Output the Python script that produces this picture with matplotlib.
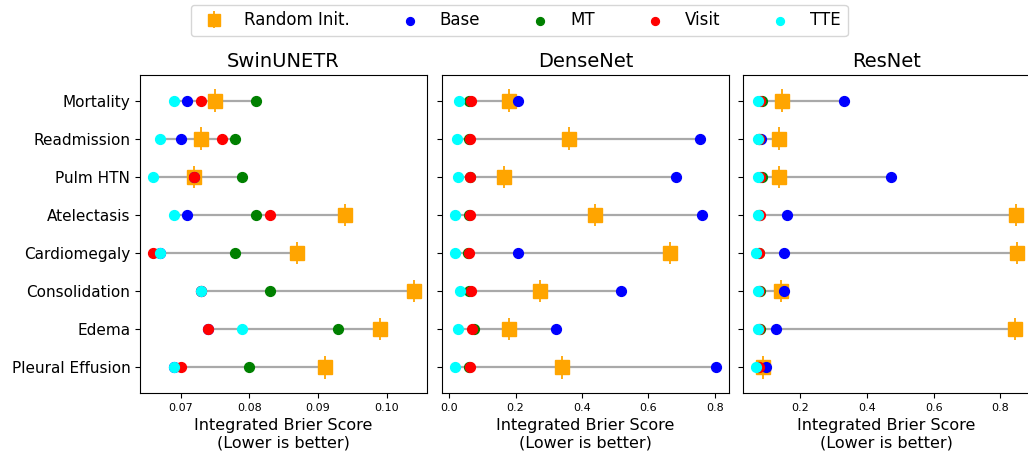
import numpy as np
import matplotlib.pyplot as plt


tasks = ['Mortality', 'Readmission', 'Pulm HTN', 'Atelectasis',
         'Cardiomegaly', 'Consolidation', 'Edema', 'Pleural Effusion']
methods = ['Random Init.', 'Base', 'MT', 'Visit', 'TTE']
colors = ['orange', 'blue', 'green', 'red', 'cyan']

# integrated Brier scores, one list per method, rows follow `tasks`
swin_ri = [0.075, 0.073, 0.072, 0.094, 0.087, 0.104, 0.099, 0.091]
swin_base = [0.071, 0.070, 0.072, 0.071, 0.067, 0.073, 0.074, 0.069]
swin_mt = [0.081, 0.078, 0.079, 0.081, 0.078, 0.083, 0.093, 0.080]
swin_visit = [0.073, 0.076, 0.072, 0.083, 0.066, 0.073, 0.074, 0.070]
swin_tte = [0.069, 0.067, 0.066, 0.069, 0.067, 0.073, 0.079, 0.069]

dense_ri = [0.181, 0.360, 0.166, 0.439, 0.666, 0.275, 0.181, 0.340]
dense_base = [0.207, 0.755, 0.684, 0.761, 0.207, 0.518, 0.322, 0.804]
dense_mt = [0.060, 0.060, 0.062, 0.061, 0.058, 0.061, 0.074, 0.059]
dense_visit = [0.066, 0.062, 0.063, 0.063, 0.060, 0.066, 0.069, 0.064]
dense_tte = [0.031, 0.025, 0.026, 0.018, 0.018, 0.033, 0.027, 0.018]

res_ri = [0.145, 0.136, 0.136, 0.847, 0.850, 0.143, 0.843, 0.090]
res_base = [0.332, 0.083, 0.472, 0.161, 0.153, 0.153, 0.128, 0.098]
res_mt = [0.085, 0.078, 0.085, 0.077, 0.078, 0.079, 0.080, 0.075]
res_visit = [0.080, 0.078, 0.081, 0.079, 0.077, 0.078, 0.078, 0.077]
res_tte = [0.073, 0.073, 0.073, 0.073, 0.068, 0.075, 0.075, 0.068]

models = {
    'SwinUNETR': [swin_ri, swin_base, swin_mt, swin_visit, swin_tte],
    'DenseNet': [dense_ri, dense_base, dense_mt, dense_visit, dense_tte],
    'ResNet': [res_ri, res_base, res_mt, res_visit, res_tte],
}

fig = plt.figure(figsize=(10.28, 4.53), dpi=100)
lefts = [0.1362, 0.4300, 0.7228]
y = np.arange(len(tasks))

for i, (name, scores) in enumerate(models.items()):
    ax = fig.add_axes([lefts[i], 0.1325, 0.2792, 0.702])
    arr = np.array(scores)
    # grey range line behind the markers
    ax.hlines(y, arr.min(axis=0), arr.max(axis=0), color='darkgray', lw=1.6, zorder=1)
    ax.errorbar(arr[0], y, yerr=0.3, fmt='s', color=colors[0], markersize=10,
                elinewidth=1.3, label=methods[0], zorder=2)
    for k in range(1, len(methods)):
        ax.scatter(arr[k], y, color=colors[k], s=50, label=methods[k], zorder=3)
    ax.invert_yaxis()
    ax.set_title(name, fontsize=14)
    ax.set_xlabel('Integrated Brier Score\n(Lower is better)', fontsize=11.5)
    ax.tick_params(axis='x', labelsize=8)
    ax.set_yticks(y)
    if i == 0:
        ax.set_yticklabels(tasks, fontsize=11)
    else:
        ax.set_yticklabels([])
    if i == 1:
        ax.set_xticks([0.0, 0.2, 0.4, 0.6, 0.8])
    if i == 2:
        ax.set_xticks([0.2, 0.4, 0.6, 0.8])

handles, labels = ax.get_legend_handles_labels()
order = [labels.index(m) for m in methods]
fig.legend([handles[j] for j in order], methods, loc='upper center',
           bbox_to_anchor=(0.505, 1.008), ncol=5, fontsize=12,
           markerscale=0.8, columnspacing=2.6, handletextpad=0.8)

plt.savefig('out.png', dpi=100)
